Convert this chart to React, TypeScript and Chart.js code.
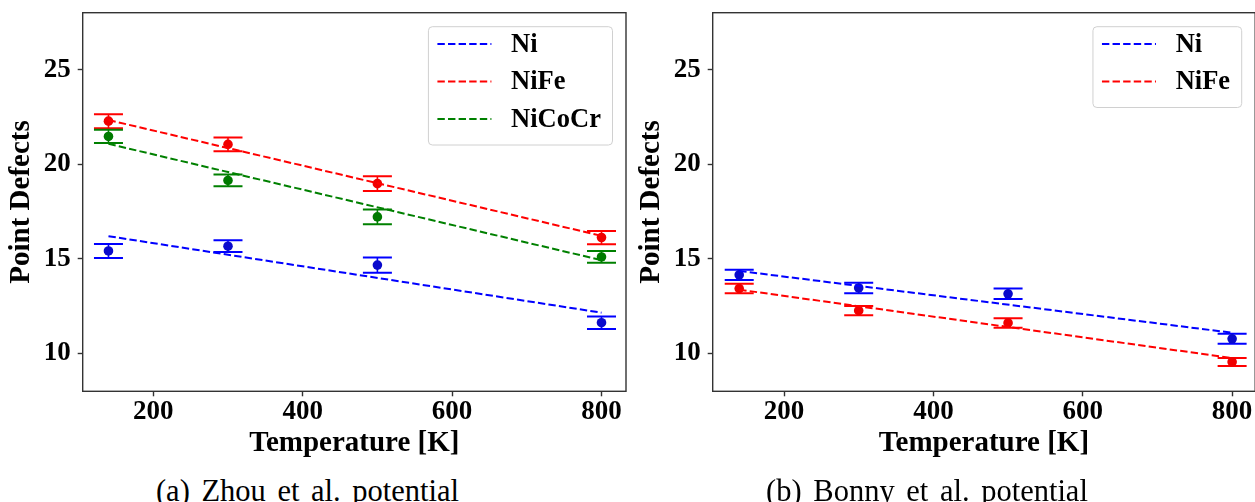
import React, { useEffect, useRef } from "react";
import { Chart, registerables } from "chart.js";

Chart.register(...registerables);

// ---------- data ----------
const temperatures = [140, 300, 500, 800];
const fitTemperatures = [140, 800];
const xTickValues = [200, 400, 600, 800];
const yTickValues = [10, 15, 20, 25];

// (a) Zhou et al. potential
const zhouNi = [15.42, 15.67, 14.67, 11.62];
const zhouNiErr = [0.37, 0.31, 0.4, 0.33];
const zhouNiFit = [16.2, 12.15];
const zhouNiFe = [22.29, 21.06, 18.98, 16.13];
const zhouNiFeErr = [0.37, 0.37, 0.39, 0.35];
const zhouNiFeFit = [22.35, 16.22];
const zhouNiCoCr = [21.48, 19.15, 17.22, 15.1];
const zhouNiCoCrErr = [0.35, 0.31, 0.39, 0.31];
const zhouNiCoCrFit = [21.09, 14.93];

// (b) Bonny et al. potential
const bonnyNi = [14.15, 13.46, 13.15, 10.77];
const bonnyNiErr = [0.27, 0.28, 0.28, 0.26];
const bonnyNiFit = [14.36, 11.09];
const bonnyNiFe = [13.43, 12.26, 11.61, 9.54];
const bonnyNiFeErr = [0.25, 0.24, 0.25, 0.21];
const bonnyNiFeFit = [13.37, 9.75];

const seriesNames = ["Ni", "NiFe", "NiCoCr"];
const lineColors = ["#0000ff", "#ff0000", "#008000"];
const markerColors = ["#0a0acc", "#f00000", "#007a00"];

const xLabel = "Temperature [K]";
const yLabel = "Point Defects";
const captions = ["(a) Zhou et al. potential", "(b) Bonny et al. potential"];

// ---------- styling ----------
const SERIF = "'Liberation Serif', 'Times New Roman', serif";
const FRAME = "#333333";
const DASH = [7.4, 3.2];

type Series = {
  name: string;
  color: string;
  marker: string;
  values: number[];
  errors: number[];
  fit: number[];
};

function buildDatasets(series: Series[]) {
  const ds: any[] = [];
  series.forEach((s) => {
    ds.push({
      type: "line",
      label: s.name,
      isFit: true,
      data: fitTemperatures.map((t, i) => ({ x: t, y: s.fit[i] })),
      borderColor: s.color,
      borderWidth: 2,
      borderDash: DASH,
      pointRadius: 0,
      fill: false,
      tension: 0,
    });
    ds.push({
      type: "line",
      label: s.name + " data",
      showLine: false,
      errors: s.errors,
      capColor: s.color,
      data: temperatures.map((t, i) => ({ x: t, y: s.values[i] })),
      pointRadius: 4.8,
      pointBorderWidth: 0,
      pointBackgroundColor: s.marker,
      pointBorderColor: s.marker,
    });
  });
  return ds;
}

const errorBarPlugin = {
  id: "errorBars",
  beforeDatasetsDraw(chart: any) {
    const { ctx } = chart;
    const xs = chart.scales.x;
    const ys = chart.scales.y;
    chart.data.datasets.forEach((d: any) => {
      if (!d.errors) return;
      ctx.save();
      ctx.strokeStyle = d.capColor;
      d.data.forEach((p: any, i: number) => {
        const px = xs.getPixelForValue(p.x);
        const yTop = ys.getPixelForValue(p.y + d.errors[i]);
        const yBot = ys.getPixelForValue(p.y - d.errors[i]);
        ctx.lineWidth = 1.6;
        ctx.beginPath();
        ctx.moveTo(px, yTop);
        ctx.lineTo(px, yBot);
        ctx.stroke();
        ctx.lineWidth = 2;
        ctx.beginPath();
        ctx.moveTo(px - 14.5, yTop);
        ctx.lineTo(px + 14.5, yTop);
        ctx.moveTo(px - 14.5, yBot);
        ctx.lineTo(px + 14.5, yBot);
        ctx.stroke();
      });
      ctx.restore();
    });
  },
};

const framePlugin = {
  id: "frameBox",
  afterDraw(chart: any) {
    const { ctx, chartArea: a } = chart;
    ctx.save();
    ctx.strokeStyle = FRAME;
    ctx.lineWidth = 1.4;
    ctx.strokeRect(a.left, a.top, a.right - a.left, a.bottom - a.top);
    ctx.restore();
  },
};

const legendPlugin = {
  id: "dashLegend",
  afterDraw(chart: any) {
    const { ctx, chartArea: a } = chart;
    const items = chart.data.datasets.filter((d: any) => d.isFit);
    ctx.save();
    ctx.font = `bold 26.5px ${SERIF}`;
    let maxW = 0;
    items.forEach((d: any) => {
      maxW = Math.max(maxW, ctx.measureText(d.label).width);
    });
    const boxW = 82.7 + maxW + 11.6;
    const boxH = 17.3 + (items.length - 1) * 37.5 + 26;
    const right = a.right - 13.5;
    const left = right - boxW;
    const top = a.top + 14;
    ctx.beginPath();
    ctx.roundRect(left, top, boxW, boxH, 4);
    ctx.fillStyle = "rgba(255,255,255,0.85)";
    ctx.fill();
    ctx.strokeStyle = "#d0d0d0";
    ctx.lineWidth = 1;
    ctx.stroke();
    items.forEach((d: any, i: number) => {
      const y = top + 17.3 + i * 37.5;
      ctx.strokeStyle = d.borderColor;
      ctx.lineWidth = 2;
      ctx.setLineDash(DASH);
      ctx.beginPath();
      ctx.moveTo(left + 9, y);
      ctx.lineTo(left + 63, y);
      ctx.stroke();
      ctx.setLineDash([]);
      ctx.fillStyle = "#000";
      ctx.textAlign = "left";
      ctx.textBaseline = "middle";
      ctx.fillText(d.label, left + 82.7, y + 1);
    });
    ctx.restore();
  },
};

type PanelProps = {
  left: number;
  width: number;
  height: number;
  series: Series[];
  xMin: number;
  xMax: number;
  padRight: number;
};

function Panel(props: PanelProps) {
  const ref = useRef<HTMLCanvasElement | null>(null);
  useEffect(() => {
    if (!ref.current) return;
    const chart = new Chart(ref.current, {
      type: "line",
      data: { datasets: buildDatasets(props.series) },
      plugins: [errorBarPlugin, framePlugin, legendPlugin],
      options: {
        animation: false,
        responsive: false,
        devicePixelRatio: 1,
        events: [],
        layout: { padding: { left: 0, top: 12.7, right: props.padRight, bottom: 0 } },
        plugins: { legend: { display: false }, tooltip: { enabled: false } },
        scales: {
          x: {
            type: "linear",
            min: props.xMin,
            max: props.xMax,
            afterBuildTicks: (s: any) => {
              s.ticks = xTickValues.map((v) => ({ value: v }));
            },
            afterFit: (s: any) => {
              s.height = props.height - 391.3;
              s.paddingLeft = 0;
              s.paddingRight = 0;
              s.paddingTop = 0;
              s.paddingBottom = 0;
            },
            border: { display: false },
            grid: {
              display: true,
              drawOnChartArea: false,
              drawTicks: true,
              tickLength: 5,
              tickWidth: 1.4,
              tickColor: FRAME,
            },
            ticks: {
              color: "#000",
              padding: 0,
              maxRotation: 0,
              autoSkip: false,
              font: { family: SERIF, size: 27, weight: "bold" },
            },
            title: {
              display: true,
              text: xLabel,
              color: "#000",
              font: { family: SERIF, size: 29, weight: "bold", lineHeight: 1 },
              padding: { top: 0, bottom: 12 },
            },
          },
          y: {
            type: "linear",
            min: 7.99,
            max: 28.03,
            afterBuildTicks: (s: any) => {
              s.ticks = yTickValues.map((v) => ({ value: v }));
            },
            afterFit: (s: any) => {
              s.width = 82.7;
              s.paddingLeft = 0;
              s.paddingRight = 0;
              s.paddingTop = 0;
              s.paddingBottom = 0;
            },
            border: { display: false },
            grid: {
              display: true,
              drawOnChartArea: false,
              drawTicks: true,
              tickLength: 5,
              tickWidth: 1.4,
              tickColor: FRAME,
            },
            ticks: {
              color: "#000",
              padding: 7,
              autoSkip: false,
              font: { family: SERIF, size: 27, weight: "bold" },
            },
            title: {
              display: true,
              text: yLabel,
              color: "#000",
              font: { family: SERIF, size: 29, weight: "bold", lineHeight: 1 },
              padding: { top: 6.8, bottom: 0 },
            },
          },
        },
      } as any,
    });
    return () => chart.destroy();
  }, []);
  return (
    <canvas
      ref={ref}
      width={props.width}
      height={props.height}
      style={{
        position: "absolute",
        left: props.left,
        top: 0,
        width: props.width,
        height: props.height,
      }}
    />
  );
}

const zhouSeries: Series[] = [
  { name: seriesNames[0], color: lineColors[0], marker: markerColors[0], values: zhouNi, errors: zhouNiErr, fit: zhouNiFit },
  { name: seriesNames[1], color: lineColors[1], marker: markerColors[1], values: zhouNiFe, errors: zhouNiFeErr, fit: zhouNiFeFit },
  { name: seriesNames[2], color: lineColors[2], marker: markerColors[2], values: zhouNiCoCr, errors: zhouNiCoCrErr, fit: zhouNiCoCrFit },
];

const bonnySeries: Series[] = [
  { name: seriesNames[0], color: lineColors[0], marker: markerColors[0], values: bonnyNi, errors: bonnyNiErr, fit: bonnyNiFit },
  { name: seriesNames[1], color: lineColors[1], marker: markerColors[1], values: bonnyNiFe, errors: bonnyNiFeErr, fit: bonnyNiFeFit },
];

const captionStyle = (center: number): React.CSSProperties => ({
  position: "absolute",
  left: center - 250,
  width: 500,
  top: 476,
  textAlign: "center",
  fontFamily: SERIF,
  fontSize: 30.5,
  lineHeight: 1,
  wordSpacing: 4,
  whiteSpace: "pre",
  color: "#000",
});

export default function App() {
  return (
    <div
      style={{
        position: "absolute",
        left: 0,
        top: 0,
        width: 1255,
        height: 502,
        overflow: "hidden",
        background: "#fff",
      }}
    >
      <Panel left={0} width={640} height={470} series={zhouSeries} xMin={105.5} xMax={832.8} padRight={14} />
      <Panel left={630} width={630} height={470} series={bonnySeries} xMin={104.5} xMax={830.9} padRight={0} />
      <div style={captionStyle(307.5)}>{captions[0]}</div>
      <div style={captionStyle(927)}>{captions[1]}</div>
    </div>
  );
}
